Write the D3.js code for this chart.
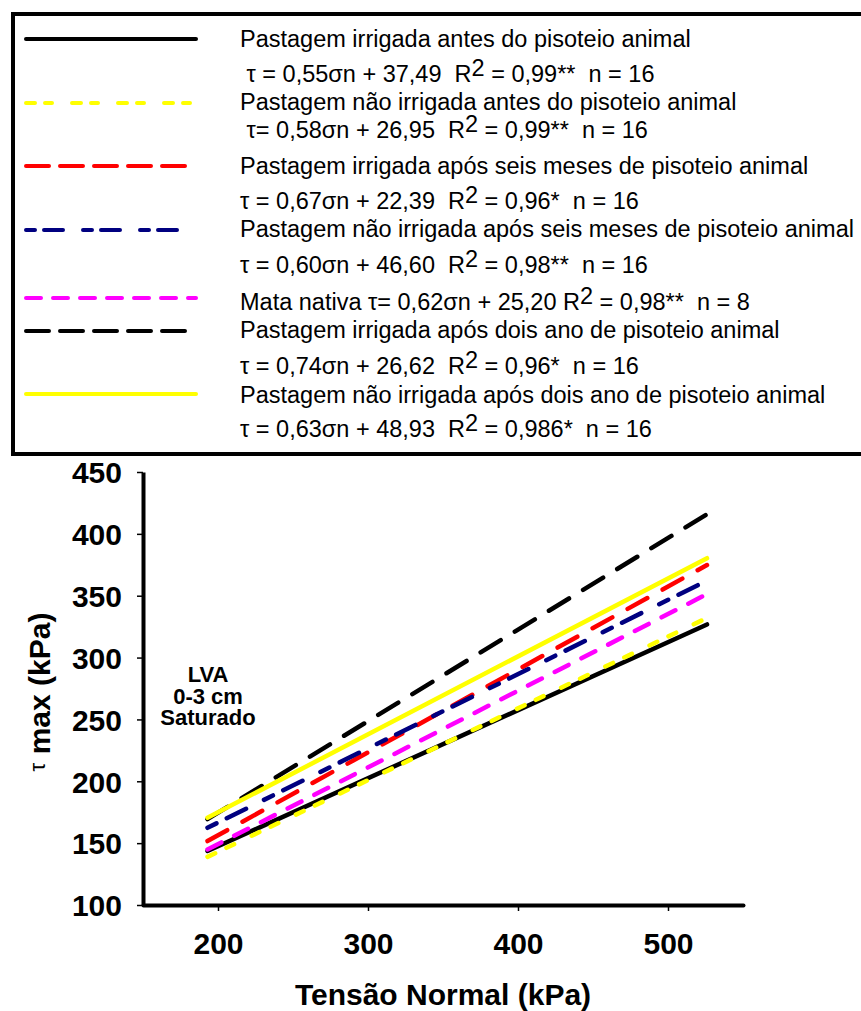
<!DOCTYPE html>
<html>
<head>
<meta charset="utf-8">
<script src="https://cdn.jsdelivr.net/npm/d3@7"></script>
<style>
  html, body { margin: 0; padding: 0; background: #fff; }
  svg { display: block; font-family: "Liberation Sans", Arial, sans-serif; }
  text { white-space: pre; }
</style>
</head>
<body>
<svg id="chart" width="861" height="1011"></svg>
<script>
// Fitted shear-strength envelopes: tau = slope * sigma_n + intercept
const seriesNames = [
  "Pastagem irrigada antes do pisoteio animal",
  "Pastagem não irrigada antes do pisoteio animal",
  "Pastagem irrigada após seis meses de pisoteio animal",
  "Pastagem não irrigada após seis meses de pisoteio animal",
  "Mata nativa",
  "Pastagem irrigada após dois ano de pisoteio animal",
  "Pastagem não irrigada após dois ano de pisoteio animal"
];
const equationLabels = [
  " τ = 0,55σn + 37,49  R^2 = 0,99**  n = 16",
  " τ= 0,58σn + 26,95  R^2 = 0,99**  n = 16",
  "τ = 0,67σn + 22,39  R^2 = 0,96*  n = 16",
  "τ = 0,60σn + 46,60  R^2 = 0,98**  n = 16",
  "τ= 0,62σn + 25,20 R^2 = 0,98**  n = 8",
  "τ = 0,74σn + 26,62  R^2 = 0,96*  n = 16",
  "τ = 0,63σn + 48,93  R^2 = 0,986*  n = 16"
];
const slopes = [0.55, 0.58, 0.67, 0.60, 0.62, 0.74, 0.63];
const intercepts = [37.49, 26.95, 22.39, 46.60, 25.20, 26.62, 48.93];
const sigmaRange = [193, 526];          // normal stress range of each fitted line (kPa)
const xTicks = [200, 300, 400, 500];
const yTicks = [100, 150, 200, 250, 300, 350, 400, 450];
const annotationLines = ["LVA", "0-3 cm", "Saturado"];

// line styles per series (dash lengths already allow for the round caps)
const seriesColors = ["#000000", "#ffff00", "#ff0000", "#000080", "#ff00ff", "#000000", "#ffff00"];
const seriesDash   = [null, "8.5,12.5,8.5,19.5", "22.5,17.5", "10,11.5,21.5,20", "15.5,14.5", "23.5,16.5", null];
const legendDash   = [null, "9,10,7,20", "23,11", "9,9,19,20", "15,12", "23,11", null];

const svg = d3.select("#chart");

// ---------- legend box ----------
const lg = svg.append("g");
lg.append("rect")
  .attr("x", 13).attr("y", 14).attr("width", 900).attr("height", 440)
  .attr("fill", "#fff").attr("stroke", "#000").attr("stroke-width", 4);

const sampleY = [39, 103, 166, 230, 298, 331, 394];
const nameBase = [47, 110, 174, 237, 310, 338, 403];
const eqBase   = [82, 138, 209, 273, null, 374, 437];

function writeWithSuperscript(sel, str) {
  const parts = str.split("^2");
  sel.append("tspan").text(parts[0]);
  sel.append("tspan").attr("dy", -6).text("2");
  sel.append("tspan").attr("dy", 6).text(parts[1]);
}

seriesNames.forEach((name, i) => {
  lg.append("line")
    .attr("x1", 26).attr("x2", 196)
    .attr("y1", sampleY[i]).attr("y2", sampleY[i])
    .attr("stroke", seriesColors[i]).attr("stroke-width", 4)
    .attr("stroke-linecap", "round")
    .attr("stroke-dasharray", legendDash[i]);

  if (eqBase[i] === null) {
    const t = lg.append("text").attr("x", 240).attr("y", nameBase[i])
      .attr("font-size", 23.5).attr("fill", "#000");
    writeWithSuperscript(t, name + " " + equationLabels[i]);
  } else {
    lg.append("text").attr("x", 240).attr("y", nameBase[i])
      .attr("font-size", 23.5).attr("fill", "#000").text(name);
    const t = lg.append("text").attr("x", 240).attr("y", eqBase[i])
      .attr("font-size", 23.5).attr("fill", "#000");
    writeWithSuperscript(t, equationLabels[i]);
  }
});

// ---------- plot ----------
const x = d3.scaleLinear().domain([150, 550]).range([143, 743]);
const y = d3.scaleLinear().domain([100, 450]).range([905, 472]);

const yAxis = svg.append("g").attr("transform", "translate(143,0)")
  .call(d3.axisLeft(y).tickValues(yTicks).tickSize(6).tickSizeOuter(0).tickPadding(15));
const xAxis = svg.append("g").attr("transform", "translate(0,905)")
  .call(d3.axisBottom(x).tickValues(xTicks).tickSize(6).tickSizeOuter(0).tickPadding(22));

[yAxis, xAxis].forEach(ax => {
  ax.select(".domain").attr("stroke", "#000").attr("stroke-width", 4)
    .attr("stroke-linecap", "round");
  ax.selectAll(".tick line").attr("stroke", "#000").attr("stroke-width", 1.5);
  ax.selectAll(".tick text")
    .attr("font-family", "'Liberation Sans', Arial, sans-serif")
    .attr("font-size", 30).attr("font-weight", "bold").attr("fill", "#000");
});
yAxis.select(".domain").attr("stroke-linecap", "butt");
yAxis.selectAll(".tick text").attr("dy", "0.36em");

const line = d3.line().x(d => x(d[0])).y(d => y(d[1]));
slopes.forEach((a, i) => {
  const pts = sigmaRange.map(s => [s, a * s + intercepts[i]]);
  svg.append("path")
    .attr("d", line(pts))
    .attr("fill", "none")
    .attr("stroke", seriesColors[i])
    .attr("stroke-width", 4.5)
    .attr("stroke-linecap", "round")
    .attr("stroke-dasharray", seriesDash[i]);
});

// soil / depth / moisture annotation
annotationLines.forEach((s, i) => {
  svg.append("text")
    .attr("x", 208).attr("y", 682 + i * 21.5)
    .attr("text-anchor", "middle")
    .attr("font-size", 22).attr("font-weight", "bold")
    .text(s);
});

// axis titles
svg.append("text")
  .attr("x", 443).attr("y", 1005)
  .attr("text-anchor", "middle")
  .attr("font-size", 30).attr("font-weight", "bold")
  .text("Tensão Normal (kPa)");

const yt = svg.append("text")
  .attr("transform", "translate(50,692) rotate(-90)")
  .attr("text-anchor", "middle");
yt.append("tspan").attr("font-size", 22).attr("dy", -5).text("τ");
yt.append("tspan").attr("font-size", 30).attr("font-weight", "bold").attr("dy", 5).text(" max (kPa)");
</script>
</body>
</html>
